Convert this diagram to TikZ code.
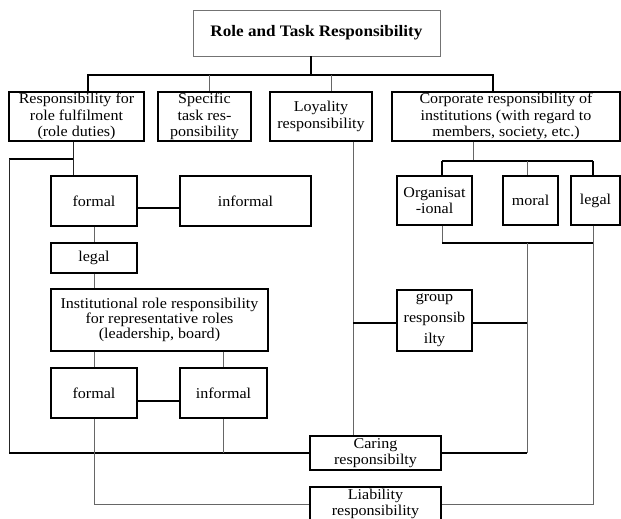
\documentclass[tikz,border=0pt]{standalone}
\usepackage{fontspec}
\setmainfont{Liberation Serif}[FakeStretch=1.07]
\begin{document}
\begin{tikzpicture}[x=1pt,y=-1pt,
  box/.style={draw=black, line width=1.3pt, inner sep=0pt, align=center,
    font=\fontsize{15}{16.2}\selectfont},
  thk/.style={line width=1.4pt, black},
  thn/.style={line width=0.8pt, black!60},
  mid/.style={line width=0.9pt, black!85}]
\useasboundingbox (0,0) rectangle (621,519);
% top level
\node[box, draw=black!55, line width=0.8pt, minimum width=247pt, minimum height=46pt,
  font=\bfseries\fontsize{16}{18}\selectfont] (title) at (316.5,33) {Role and Task Responsibility};
% level 2
\node[box, minimum width=135pt, minimum height=49pt] (A) at (76.5,116.5) {Responsibility for\\role fulfilment\\(role duties)};
\node[box, minimum width=93pt, minimum height=49pt] (B) at (204.5,116.5) {Specific\\task res-\\ponsibility};
\node[box, minimum width=102pt, minimum height=49pt] (C) at (321,116.5) {Loyality\\responsibility};
\node[box, minimum width=228pt, minimum height=49pt] (D) at (506,116.5) {Corporate responsibility of\\institutions (with regard to\\members, society, etc.)};
% left branch
\node[box, minimum width=86pt, minimum height=50pt] (formalA) at (94,201) {formal};
\node[box, minimum width=131pt, minimum height=50pt] (informalA) at (245.5,201) {informal};
\node[box, minimum width=86pt, minimum height=30pt] (legalA) at (94,258) {legal};
\node[box, minimum width=217pt, minimum height=62pt, font=\fontsize{15}{15.2}\selectfont] (inst) at (159.5,320) {Institutional role responsibility\\for representative roles\\(leadership, board)};
\node[box, minimum width=86pt, minimum height=50pt] (formalB) at (94,393) {formal};
\node[box, minimum width=87pt, minimum height=50pt] (informalB) at (223.5,393) {informal};
% right branch
\node[box, minimum width=75pt, minimum height=49pt] (org) at (434.5,200.5) {Organisat\\-ional};
\node[box, minimum width=55pt, minimum height=49pt] (moral) at (530.5,200.5) {moral};
\node[box, minimum width=49pt, minimum height=49pt] (legalB) at (595.5,200.5) {legal};
\node[box, minimum width=75pt, minimum height=61pt, font=\fontsize{15}{21}\selectfont] (group) at (434.5,320.5) {group\\responsib\\ilty};
% bottom
\node[box, minimum width=131pt, minimum height=34pt] (caring) at (375.5,453) {Caring\\responsibilty};
\node[box, minimum width=131pt, minimum height=34pt] (liab) at (375.5,504) {Liability\\responsibility};
% helper coordinates
\coordinate (tdrop) at (311,75);
\coordinate (busA) at (88,75);
\coordinate (busB) at (209,75);
\coordinate (busC) at (331,75);
\coordinate (busD) at (493,75);
\coordinate (aj) at (73,159);
\coordinate (lc) at (9,159);
\coordinate (lb) at (9,453);
\coordinate (fy1) at (0,208);
\coordinate (fy2) at (0,401);
\coordinate (ly) at (353,323);
\coordinate (dj) at (473,161);
\coordinate (dl) at (442,161);
\coordinate (dm) at (527,161);
\coordinate (dr) at (593,161);
\coordinate (ol) at (442,243);
\coordinate (mx) at (527,243);
\coordinate (rx) at (593,243);
% top connectors
\draw[thk] (title.south -| tdrop) -- (tdrop);
\draw[thk] (A.north -| busA) -- (busA) -- (busD) -- (D.north -| busD);
\draw[thn] (busB) -- (B.north -| busB);
\draw[thn] (busC) -- (C.north -| busC);
% left branch connectors
\draw[mid] (A.south -| aj) -- (formalA.north -| aj);
\draw[thk] (aj) -- (lc);
\draw[mid] (lc) -- (lb);
\draw[thk] (lb) -- (caring.west);
\draw[thk] (formalA.east |- fy1) -- (informalA.west |- fy1);
\draw[thn] (formalA.south) -- (legalA.north);
\draw[thn] (legalA.south) -- (inst.north -| legalA.south);
\draw[thn] (inst.south -| formalB.north) -- (formalB.north);
\draw[thn] (inst.south -| informalB.north) -- (informalB.north);
\draw[thk] (formalB.east |- fy2) -- (informalB.west |- fy2);
\draw[thn] (formalB.south) -- (formalB.south |- liab.west) -- (liab.west);
\draw[thn] (informalB.south) -- (informalB.south |- caring.west);
% loyalty
\draw[thn] (C.south -| ly) -- (caring.north -| ly);
\draw[thk] (ly) -- (group.west |- ly);
\draw[thk] (group.east |- ly) -- (mx |- ly);
% corporate
\draw[thn] (D.south -| dj) -- (dj);
\draw[thk] (dl) -- (dr);
\draw[thk] (dl) -- (org.north -| dl);
\draw[thn] (dm) -- (moral.north -| dm);
\draw[thk] (dr) -- (legalB.north -| dr);
\draw[thn] (org.south -| ol) -- (ol);
\draw[thk] (ol) -- (rx);
\draw[thn] (mx) -- (mx |- caring.east);
\draw[thk] (caring.east) -- (mx |- caring.east);
\draw[thn] (legalB.south -| rx) -- (rx |- liab.east) -- (liab.east);
\end{tikzpicture}
\end{document}
